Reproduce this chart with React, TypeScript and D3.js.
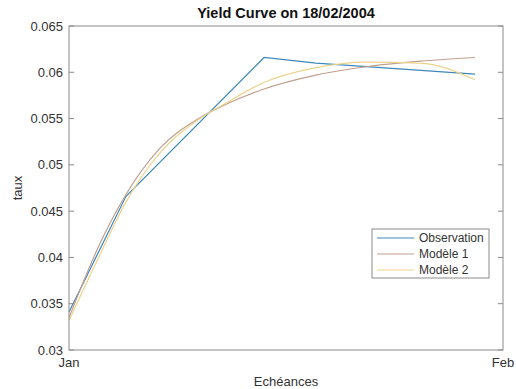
import React from "react";
import * as d3 from "d3";

// maturities, as day offsets from the first of January (the x axis runs Jan -> Feb)
const obsDays = [0, 4.07, 13.93, 17.64, 29.0];
const obsRates = [0.0341, 0.0466, 0.0616, 0.061, 0.0598];

const modelDays = [0, 2.21, 4.07, 6.5, 9.36, 11.14, 13.93, 17.64, 21.21, 25.07, 29.0];
const model1Rates = [0.0335, 0.0415, 0.0468, 0.0518, 0.0551, 0.0565, 0.0582, 0.0597, 0.0606, 0.0612, 0.0616];
const model2Rates = [0.0332, 0.0403, 0.046, 0.0513, 0.055, 0.0566, 0.0589, 0.0605, 0.0611, 0.061, 0.0592];

const seriesNames = ["Observation", "Modèle 1", "Modèle 2"];
const seriesColors = ["#3f88b8", "#c0a090", "#ecd38e"];
const yTicks = [0.03, 0.035, 0.04, 0.045, 0.05, 0.055, 0.06, 0.065];

const base = new Date(2004, 0, 1).getTime();
const toDate = (d: number) => new Date(base + d * 864e5);

export default function App() {
  const width = 516;
  const height = 389;
  const margin = { top: 26, right: 13, bottom: 39, left: 69 };
  const innerWidth = width - margin.left - margin.right;
  const innerHeight = height - margin.top - margin.bottom;

  const xScale = d3.scaleTime()
    .domain([new Date(2004, 0, 1), new Date(2004, 1, 1)])
    .range([0, innerWidth]);
  const yScale = d3.scaleLinear().domain([0.03, 0.065]).range([innerHeight, 0]);

  const font = "'Liberation Sans', Arial, sans-serif";
  const textColor = "#333";
  const axisColor = "#8a8a8a";

  const straight = d3.line<[number, number]>()
    .x((d) => xScale(toDate(d[0])))
    .y((d) => yScale(d[1]));
  const smooth = d3.line<[number, number]>()
    .x((d) => xScale(toDate(d[0])))
    .y((d) => yScale(d[1]))
    .curve(d3.curveMonotoneX);

  const series = [
    { path: straight(obsDays.map((d, i) => [d, obsRates[i]] as [number, number])) },
    { path: smooth(modelDays.map((d, i) => [d, model1Rates[i]] as [number, number])) },
    { path: smooth(modelDays.map((d, i) => [d, model2Rates[i]] as [number, number])) },
  ];

  const xTicks = xScale.domain();
  const fmt = d3.timeFormat("%b");

  // legend box, in plot coordinates
  const lg = { x: 303, y: 203, w: 117, h: 49 };

  return (
    <svg width={width} height={height} style={{ position: "absolute", left: 0, top: 0, background: "#fff" }}>
      <text x={margin.left + innerWidth / 2} y={18} textAnchor="middle" fontFamily={font} fontSize={14.5} fontWeight="bold" fill="#111">
        Yield Curve on 18/02/2004
      </text>
      <g transform={`translate(${margin.left},${margin.top})`}>
        {series.map((s, i) => (
          <path key={i} d={s.path ?? ""} fill="none" stroke={seriesColors[i]} strokeWidth={1.2} />
        ))}
        <rect x={0} y={0} width={innerWidth} height={innerHeight} fill="none" stroke={axisColor} strokeWidth={1} />
        {yTicks.map((t) => (
          <g key={t}>
            <line x1={0} x2={5} y1={yScale(t)} y2={yScale(t)} stroke={axisColor} />
            <line x1={innerWidth - 5} x2={innerWidth} y1={yScale(t)} y2={yScale(t)} stroke={axisColor} />
            <text x={-6} y={yScale(t)} dy="0.35em" textAnchor="end" fontFamily={font} fontSize={13} fill={textColor}>
              {String(t)}
            </text>
          </g>
        ))}
        {xTicks.map((t, i) => (
          <text key={i} x={xScale(t)} y={innerHeight + 17} textAnchor="middle" fontFamily={font} fontSize={13} fill={textColor}>
            {fmt(t)}
          </text>
        ))}
        <text x={innerWidth / 2} y={innerHeight + 36} textAnchor="middle" fontFamily={font} fontSize={13} fill={textColor}>
          Echéances
        </text>
        <text transform={`translate(${-47},${innerHeight / 2}) rotate(-90)`} textAnchor="middle" fontFamily={font} fontSize={13} fill={textColor}>
          taux
        </text>
        <g transform={`translate(${lg.x},${lg.y})`}>
          <rect x={0} y={0} width={lg.w} height={lg.h} fill="#fff" stroke={axisColor} />
          {seriesNames.map((n, i) => (
            <g key={n} transform={`translate(0,${9 + i * 16})`}>
              <line x1={5} x2={42} y1={0} y2={0} stroke={seriesColors[i]} strokeWidth={1.2} />
              <text x={47} y={0} dy="0.35em" fontFamily={font} fontSize={12} fill={textColor}>
                {n}
              </text>
            </g>
          ))}
        </g>
      </g>
    </svg>
  );
}
